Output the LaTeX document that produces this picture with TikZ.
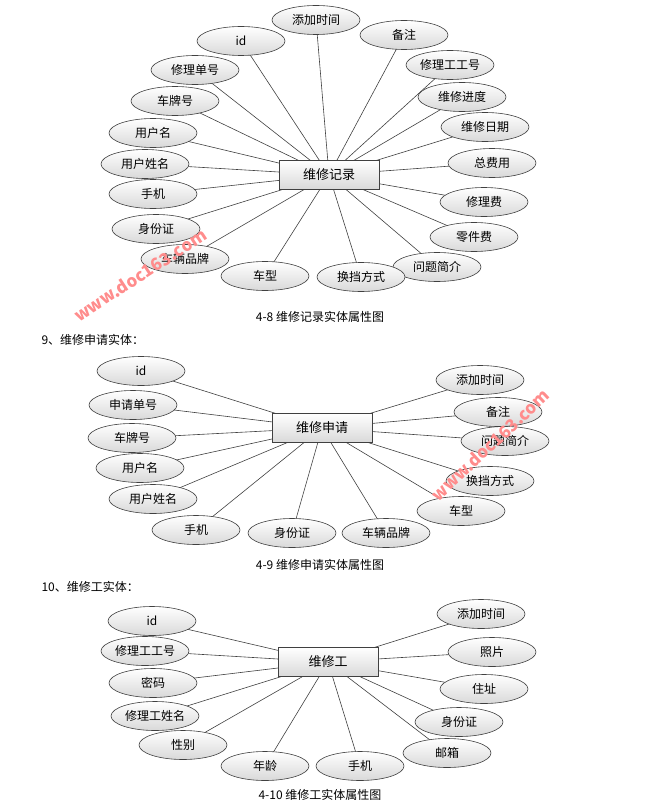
\documentclass[tikz,border=0pt]{standalone}
\usepackage{fontspec}
\setmainfont{Noto Sans CJK SC}
\usetikzlibrary{backgrounds,shapes.geometric}
\tikzset{
 attr/.style={ellipse,draw=black!75,line width=0.6pt,top color=white,bottom color=black!15,minimum width=88pt,minimum height=29pt,inner sep=1pt,font=\fontsize{12}{12}\selectfont},
 ent/.style={rectangle,draw=black!75,line width=0.6pt,top color=white,bottom color=black!15,minimum width=100pt,minimum height=29pt,font=\fontsize{13}{13}\selectfont},
 lnk/.style={draw=black!75,line width=0.6pt},
 captxt/.style={font=\fontsize{12}{12}\selectfont},
 wm/.style={text=red!45,font=\fontsize{17}{17}\selectfont\bfseries}
}
\begin{document}
\begin{tikzpicture}[x=1pt,y=-1pt]
\useasboundingbox (0,0) rectangle (650,808);
% diagram 1
\node[ent] (e1) at (329,175) {维修记录};
\foreach \n/\x/\y/\t in {a1/316/20/添加时间,a2/241/41/id,a3/404/35/备注,a4/195/70/修理单号,a5/450/65/修理工工号,a6/175/101/车牌号,a7/462/97/维修进度,a8/153/133/用户名,a9/485/127/维修日期,a10/145/164/用户姓名,a11/492/163/总费用,a12/153/194/手机,a13/484/202/修理费,a14/156/229/身份证,a15/474/237/零件费,a16/185/259/车辆品牌,a17/437/267/问题简介,a18/265/276/车型,a19/361/277/换挡方式}{
 \node[attr] (\n) at (\x,\y) {\t};
 \begin{scope}[on background layer]\draw[lnk] (e1.center) -- (\n.center);\end{scope}
}
\node[captxt] (c1) at (320,317) {4-8 维修记录实体属性图};
\node[captxt,anchor=west] (h1) at (38,340) {9、维修申请实体：};
% diagram 2
\node[ent] (e2) at (322,428) {维修申请};
\foreach \n/\x/\y/\t in {b1/141/371/id,b2/133/405/申请单号,b3/132/438/车牌号,b4/140/468/用户名,b5/153/499/用户姓名,b6/196/530/手机,b7/292/533/身份证,b8/386/533/车辆品牌,b9/461/511/车型,b10/490/481/换挡方式,b11/505/441/问题简介,b12/498/412/备注,b13/480/380/添加时间}{
 \node[attr] (\n) at (\x,\y) {\t};
 \begin{scope}[on background layer]\draw[lnk] (e2.center) -- (\n.center);\end{scope}
}
\node[captxt] (c2) at (320,565) {4-9 维修申请实体属性图};
\node[captxt,anchor=west] (h2) at (38,587) {10、维修工实体：};
% diagram 3
\node[ent] (e3) at (328,662) {维修工};
\foreach \n/\x/\y/\t in {d1/152/621/id,d2/145/651/修理工工号,d3/153/683/密码,d4/155/716/修理工姓名,d5/183/745/性别,d6/265/766/年龄,d7/360/766/手机,d8/447/753/邮箱,d9/459/722/身份证,d10/484/689/住址,d11/492/652/照片,d12/481/614/添加时间}{
 \node[attr] (\n) at (\x,\y) {\t};
 \begin{scope}[on background layer]\draw[lnk] (e3.center) -- (\n.center);\end{scope}
}
\node[captxt] (c3) at (320,795) {4-10 维修工实体属性图};
% watermarks
\node[wm,rotate=33] (w1) at (140,275) {www.doc163.com};
\node[wm,rotate=43] (w2) at (490,445) {www.doc163.com};
\end{tikzpicture}
\end{document}
